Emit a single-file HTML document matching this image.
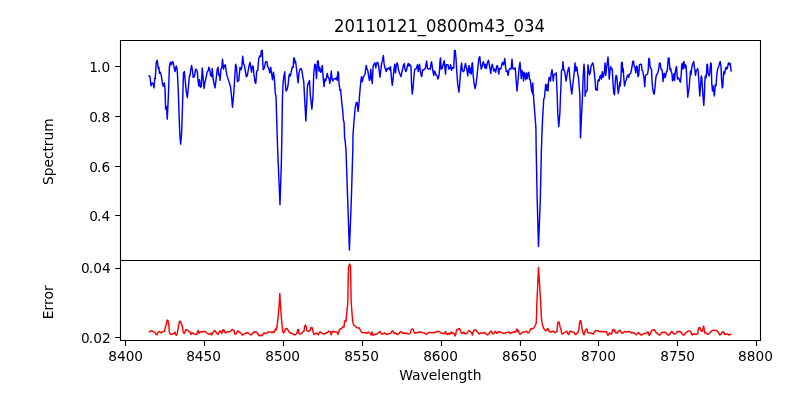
<!DOCTYPE html>
<html><head><meta charset="utf-8"><title>20110121_0800m43_034</title>
<style>
html,body{margin:0;padding:0;background:#fff;}
body{width:800px;height:400px;overflow:hidden;}
svg{display:block;}
text{font-family:"DejaVu Sans","Liberation Sans",sans-serif;fill:#000;}
.t{font-size:13.89px;}
.k{font-size:13.7px;}
.ti{font-size:16.67px;}
</style></head><body>
<svg width="800" height="400" viewBox="0 0 800 400">
<rect x="0" y="0" width="800" height="400" fill="#fff"/>
<defs><clipPath id="c1"><rect x="120" y="40" width="640" height="220"/></clipPath><clipPath id="c2"><rect x="120" y="260" width="640" height="80"/></clipPath></defs>
<polyline clip-path="url(#c1)" points="148.50,75.38 150.00,76.62 151.00,85.75 152.00,82.88 153.00,83.50 154.00,87.88 154.75,77.88 155.25,78.75 156.25,62.25 157.25,60.38 158.25,68.50 159.00,67.25 159.38,73.25 160.38,72.25 161.25,75.38 162.50,83.50 163.25,86.25 164.25,82.88 165.00,88.50 165.62,109.12 166.50,106.62 167.25,119.12 168.50,93.50 169.38,67.25 170.38,62.25 171.25,64.75 171.88,62.25 172.88,61.62 173.50,64.75 175.00,71.62 176.25,66.00 177.25,70.38 178.12,87.25 179.75,133.50 180.62,144.12 181.62,133.50 182.88,93.50 183.50,72.88 184.38,71.62 185.25,81.00 186.25,91.62 187.38,97.50 188.12,89.75 189.38,76.00 190.00,76.00 190.62,70.38 191.62,65.38 192.50,71.00 193.12,77.25 194.38,76.62 195.62,69.12 196.88,70.38 197.50,73.50 198.12,81.62 198.75,86.00 199.50,79.75 200.38,87.25 201.25,86.62 202.25,67.88 203.12,77.25 204.00,88.50 205.00,82.25 206.25,76.62 207.25,71.62 208.12,71.00 208.75,67.25 209.62,69.12 210.62,75.38 211.50,76.62 212.25,68.50 213.12,78.50 214.00,83.50 215.00,87.88 216.00,80.38 217.25,69.12 218.00,67.25 218.75,75.38 219.50,74.12 220.00,80.38 221.00,69.12 221.88,67.25 222.50,59.12 223.50,69.12 224.38,66.00 225.38,64.75 226.00,69.75 226.88,75.38 228.12,79.12 229.38,82.88 230.62,87.25 231.50,96.00 232.50,107.25 233.75,93.50 234.38,83.50 235.62,64.12 236.50,67.25 237.50,81.62 238.75,80.38 240.00,67.25 241.00,69.75 241.75,67.25 242.75,56.25 243.50,63.50 244.38,65.38 245.25,70.38 246.25,76.62 247.25,76.00 248.12,71.00 249.00,66.00 250.00,62.25 250.75,66.62 251.50,72.25 252.50,66.00 253.25,66.62 254.00,74.75 255.00,82.25 255.75,83.50 256.75,71.00 257.75,70.38 258.75,58.50 259.75,56.00 260.75,56.62 261.25,51.00 262.25,50.38 262.75,62.25 263.25,69.75 264.38,67.88 265.62,61.62 266.88,61.62 267.75,66.62 268.75,68.50 269.75,72.88 270.75,67.25 271.50,72.88 272.50,79.75 273.50,72.25 274.38,78.50 275.25,92.88 276.00,96.00 277.50,146.00 278.30,165.00 280.00,204.80 281.30,165.00 281.70,146.00 282.50,96.00 283.12,82.25 283.75,77.25 284.75,71.62 285.25,82.25 286.00,91.00 287.25,89.12 288.12,84.75 289.00,75.38 289.75,74.12 290.25,76.00 291.00,72.88 291.88,68.50 292.50,66.62 293.25,67.25 293.75,57.88 294.50,58.50 295.00,62.88 295.62,61.62 296.50,68.50 297.25,76.00 298.12,82.88 299.00,72.88 300.00,69.12 301.00,68.50 301.88,70.38 302.75,76.62 303.75,81.62 304.50,96.00 305.88,121.00 307.50,86.00 308.50,82.25 309.00,83.50 309.50,80.38 310.38,96.00 311.88,109.12 313.00,96.00 313.75,73.50 314.75,64.12 315.50,64.75 316.50,78.50 317.50,61.00 318.25,61.00 319.00,71.00 319.75,67.25 320.62,72.25 321.50,71.00 322.25,65.38 323.00,76.00 324.00,86.62 324.75,79.12 325.62,81.00 326.50,77.25 327.25,73.50 328.12,77.25 329.00,78.50 329.75,83.50 330.62,78.50 331.25,71.00 332.00,78.50 332.75,81.00 333.75,79.12 334.75,78.50 335.62,79.12 336.50,77.25 337.25,80.38 337.88,71.62 338.50,72.88 339.00,83.50 340.00,90.38 340.75,89.75 340.85,92.25 342.10,106.10 342.50,108.00 343.40,120.00 344.15,123.00 344.60,138.50 345.00,139.50 346.00,150.00 347.70,200.00 349.40,250.00 351.30,200.00 352.80,150.00 353.00,135.00 354.10,120.00 355.25,107.25 356.40,102.40 357.10,102.40 358.10,111.40 359.00,103.50 359.50,96.00 360.25,87.25 361.00,79.75 361.50,76.62 362.25,81.62 363.12,77.88 364.00,76.00 365.00,74.12 365.62,69.12 366.25,65.38 367.00,69.12 367.75,70.38 368.50,75.38 369.38,80.38 370.00,79.75 370.75,69.12 371.50,77.25 372.25,83.50 373.12,66.00 374.00,64.12 375.00,62.88 375.75,67.88 376.50,64.12 377.25,62.25 378.00,62.88 378.75,66.62 379.50,73.50 380.00,77.25 380.75,71.00 381.62,62.88 382.50,60.38 383.38,55.38 384.00,63.50 384.75,66.62 385.62,69.75 386.25,71.62 387.00,68.50 387.75,69.12 388.75,67.88 389.75,69.75 390.50,66.62 391.25,76.00 392.25,85.38 393.12,78.50 394.00,69.12 394.75,64.12 395.50,72.88 396.25,66.00 397.00,62.88 397.75,64.75 398.50,69.75 399.38,72.88 400.25,74.75 401.00,76.62 401.88,72.25 402.75,68.50 403.50,64.75 404.25,63.50 405.00,69.12 405.75,71.62 406.88,69.12 407.50,65.38 408.25,63.50 409.00,66.00 409.50,64.12 410.25,65.38 411.00,66.62 411.50,83.50 412.25,94.12 413.12,87.25 414.00,75.38 414.75,69.12 415.75,69.12 416.50,67.88 417.50,64.75 418.25,71.62 419.00,67.25 419.50,64.12 420.25,70.38 421.00,74.75 421.75,76.62 422.50,69.75 423.50,70.38 424.38,69.12 425.25,68.50 426.00,64.75 426.62,61.00 427.50,68.50 428.50,69.12 429.50,68.50 430.25,69.12 431.00,63.50 431.50,61.62 432.25,66.62 433.00,71.62 433.75,75.38 434.50,71.00 435.25,72.88 436.25,75.38 437.25,76.00 438.00,79.12 438.75,76.62 439.50,71.00 440.00,61.00 440.50,57.88 441.25,69.12 442.25,68.50 443.12,64.75 444.25,60.75 444.75,66.00 445.50,74.12 446.25,64.75 447.25,64.75 448.00,64.75 448.75,69.12 449.75,68.50 450.50,64.75 451.50,70.38 452.25,67.25 453.00,68.50 453.75,67.88 454.50,50.38 455.25,50.38 456.00,58.50 456.75,71.00 457.75,84.75 459.00,92.25 460.00,79.75 461.00,66.62 461.62,62.88 462.25,70.38 463.25,71.62 464.00,71.00 464.75,66.62 465.50,63.50 466.25,67.25 467.00,70.38 467.75,76.00 468.50,67.88 469.00,65.38 469.75,72.88 470.50,67.88 471.25,74.12 472.00,63.50 472.50,62.88 473.12,74.75 474.00,82.88 475.00,88.50 476.00,84.75 477.00,76.00 478.00,66.00 479.00,57.88 479.75,56.62 480.50,63.50 481.25,69.12 482.25,66.00 483.25,61.62 484.00,64.12 484.75,67.88 485.50,64.12 486.25,68.50 487.00,64.75 487.75,61.62 488.50,60.38 489.25,64.75 490.00,68.50 490.75,73.50 491.50,67.25 492.25,64.12 493.00,67.25 493.75,71.00 494.75,69.12 495.75,72.25 496.50,67.25 497.25,65.38 498.00,67.88 498.75,74.12 499.50,68.50 500.50,69.12 501.25,67.25 502.00,63.50 502.75,62.25 503.50,64.75 504.25,62.25 504.75,58.50 505.50,66.62 506.25,71.62 507.25,71.00 508.12,75.38 509.00,69.75 510.00,68.50 511.00,69.12 511.50,64.75 512.00,59.12 512.75,68.50 513.75,69.12 514.50,68.50 515.25,67.88 516.00,78.50 517.00,91.00 517.75,83.50 518.50,74.75 519.25,66.62 520.00,62.25 520.75,71.00 521.25,78.50 522.00,70.38 522.75,72.88 523.50,81.00 524.25,72.25 525.00,75.38 525.75,79.75 526.50,72.88 527.25,78.50 528.00,74.12 528.75,72.25 529.50,79.12 530.25,79.75 531.00,86.00 531.75,91.62 532.25,87.25 532.75,82.88 533.25,92.88 533.75,96.00 531.75,91.50 533.25,93.00 534.15,105.00 535.30,120.00 535.90,127.50 536.20,150.00 537.20,200.00 538.50,246.50 540.30,200.00 541.40,150.00 541.90,135.00 542.50,120.00 543.40,105.00 543.75,99.00 544.50,97.50 545.00,91.62 545.75,84.12 546.75,90.38 547.50,84.75 548.00,91.00 548.50,82.25 549.00,77.88 549.75,77.25 550.50,81.00 551.25,73.50 552.00,69.75 552.75,74.75 553.25,81.00 553.75,76.00 554.75,74.12 555.50,74.12 556.25,72.88 556.60,82.00 557.20,96.00 557.75,113.00 558.75,126.60 559.90,113.00 560.50,96.00 561.00,85.00 561.50,70.38 562.50,69.12 563.00,61.62 563.75,70.38 564.50,70.38 565.25,75.38 566.00,81.00 566.75,77.25 567.50,72.25 568.25,69.12 569.00,67.25 569.75,77.25 570.75,86.00 571.75,94.12 572.50,87.25 573.50,78.50 574.25,72.25 575.00,62.88 575.75,71.00 576.25,66.62 577.00,67.88 577.75,74.12 578.50,77.88 579.25,87.25 579.88,96.00 580.50,137.88 582.50,96.00 582.75,87.25 583.50,71.00 584.00,64.12 584.62,72.25 585.12,96.25 585.75,91.50 586.38,91.75 587.25,90.25 587.50,77.25 588.00,64.75 588.75,70.38 589.50,74.75 590.25,72.88 591.00,66.62 591.75,64.75 592.75,62.88 593.50,66.00 594.25,72.25 595.00,79.75 595.75,89.75 596.50,89.12 597.25,90.38 597.75,81.62 598.50,79.75 599.25,81.00 600.00,76.00 600.75,75.38 601.50,79.12 602.25,71.62 603.00,77.25 603.75,75.38 604.50,71.00 605.00,62.88 605.75,75.38 606.50,68.50 607.25,62.88 608.00,57.00 608.50,64.75 609.25,79.12 610.00,71.00 610.75,66.62 611.50,68.50 612.25,69.12 613.00,83.50 613.75,92.88 614.50,94.75 615.25,82.25 616.00,75.38 616.75,76.00 617.50,86.00 618.25,93.50 619.00,88.50 619.75,82.25 620.25,86.00 621.00,77.25 621.50,62.88 622.25,62.25 622.75,72.25 623.25,68.50 623.75,77.25 624.50,86.00 625.25,82.25 626.25,79.75 627.25,76.00 628.00,74.75 628.75,77.25 629.50,74.12 630.50,73.50 631.25,71.00 632.00,66.62 632.75,61.62 633.50,61.00 634.25,66.62 635.00,67.88 635.75,72.88 636.50,66.00 637.25,66.62 638.00,76.62 638.75,74.75 639.50,64.75 640.75,64.12 641.50,64.75 642.00,70.38 642.75,71.00 643.25,74.12 644.00,78.50 644.75,86.62 645.50,75.38 646.50,74.75 647.50,74.12 648.25,69.75 648.75,58.50 649.50,59.12 650.00,66.00 650.75,68.50 651.50,69.12 652.00,81.00 652.75,89.12 653.50,92.88 654.25,94.12 655.00,87.25 655.75,78.50 656.50,74.75 657.25,74.12 658.00,72.25 658.75,68.50 659.50,62.88 660.25,63.50 661.00,69.12 662.00,69.75 662.50,72.88 663.00,81.62 663.75,74.12 664.50,73.50 665.00,77.88 665.75,75.38 666.50,71.62 667.25,71.00 667.75,64.75 668.25,57.88 669.00,57.88 669.50,64.12 670.00,69.75 670.75,68.50 671.25,71.62 672.00,74.12 672.50,81.00 673.25,78.50 674.00,73.50 674.50,80.38 675.25,72.88 676.00,67.88 676.50,66.62 677.00,72.88 677.50,79.12 678.25,77.88 679.00,78.50 679.75,81.00 680.50,82.25 681.25,74.12 681.75,64.12 682.50,63.50 683.00,69.12 683.50,62.25 684.00,61.62 684.75,67.88 685.25,64.75 686.00,65.38 686.50,72.88 687.00,83.50 687.50,91.00 687.75,97.25 689.00,88.50 689.75,79.75 690.50,71.00 691.00,74.75 691.75,67.88 692.50,64.12 693.25,62.88 693.75,61.62 694.25,66.62 695.00,71.00 695.50,75.38 696.25,70.38 697.00,69.75 697.75,68.50 698.25,72.25 699.00,83.50 699.75,96.00 701.25,76.00 701.75,77.25 702.25,84.75 703.00,96.00 703.75,105.38 704.50,93.50 704.75,82.25 705.25,76.00 706.00,77.88 706.50,72.88 707.00,64.12 707.50,64.75 708.00,72.88 708.50,74.75 709.25,76.00 710.00,69.75 710.75,62.88 711.25,64.12 711.75,83.50 712.50,91.00 713.25,86.00 714.38,96.00 715.25,84.75 716.00,86.00 716.75,75.38 717.50,69.75 718.25,67.25 719.00,66.00 719.75,62.25 720.25,61.62 721.00,66.62 721.50,79.12 722.25,87.88 722.75,86.62 723.25,78.50 723.75,71.62 724.50,74.12 725.25,70.38 726.00,67.25 726.75,69.12 727.50,67.88 728.25,63.50 728.75,62.88 729.50,64.75 730.25,63.50 730.75,67.88 731.25,71.62" fill="none" stroke="#0000ff" stroke-width="1.45" stroke-linejoin="round" stroke-linecap="butt"/>
<polyline clip-path="url(#c2)" points="148.60,331.80 150.00,331.50 151.20,330.80 152.50,331.20 154.00,331.80 155.00,332.50 156.00,334.50 157.00,334.80 157.80,332.50 159.00,331.50 160.00,332.00 161.20,333.00 162.20,331.80 163.50,331.50 164.50,331.50 165.20,327.50 165.80,326.00 166.50,323.50 167.20,320.00 168.00,320.50 168.80,325.00 169.50,333.00 170.50,334.20 172.00,334.20 173.20,333.80 174.20,333.00 175.00,332.00 175.60,334.50 176.40,335.20 177.20,334.00 178.00,329.00 178.80,325.00 179.60,321.20 180.50,321.50 181.50,324.00 182.50,327.50 183.20,332.00 184.00,333.50 184.80,333.00 185.50,330.00 186.50,329.80 187.80,330.50 189.00,331.50 190.00,332.00 191.00,334.50 192.00,332.50 193.00,333.50 194.50,334.20 196.00,334.50 196.80,334.50 197.50,332.00 198.20,330.50 199.00,333.00 200.00,332.00 201.20,331.80 202.50,332.00 203.50,331.20 204.80,331.50 206.00,332.20 207.20,333.20 208.50,334.20 209.50,334.50 210.50,333.50 211.20,333.00 211.80,335.00 212.80,333.00 213.80,331.20 214.80,330.50 215.80,332.00 216.80,333.50 218.00,334.50 219.00,332.50 220.00,330.80 221.00,332.00 221.80,333.50 222.80,330.00 223.80,329.80 224.50,332.00 225.50,333.00 226.50,332.00 228.00,331.80 229.50,331.80 230.80,331.20 231.80,329.80 233.00,329.50 234.00,330.80 234.80,334.00 236.00,333.80 237.00,332.00 238.00,330.80 239.00,332.00 240.00,332.50 241.20,333.50 242.20,335.00 243.20,334.80 244.50,333.80 245.80,333.20 247.00,332.80 248.20,333.00 249.20,334.00 250.50,334.80 251.80,334.50 252.80,333.00 253.80,332.00 255.00,331.80 256.20,332.00 257.20,333.00 258.20,334.50 259.20,335.80 260.20,335.20 261.20,335.50 262.20,335.80 263.00,334.00 264.00,333.00 265.20,333.50 266.20,333.50 267.20,332.50 268.20,331.80 269.20,332.20 270.20,331.80 271.20,332.20 272.00,332.80 273.00,331.80 274.00,332.50 274.80,330.50 275.50,329.00 276.20,330.00 277.00,326.50 277.80,320.00 278.60,311.00 279.20,305.00 279.80,293.40 280.50,305.00 281.20,315.00 282.00,325.00 282.80,331.50 283.50,333.00 284.50,331.50 285.50,329.00 286.50,328.50 287.50,329.00 288.50,331.20 289.50,332.50 290.50,333.20 291.50,333.00 292.50,333.80 293.80,334.50 295.00,334.80 296.20,334.00 297.20,332.50 297.80,329.50 298.50,329.50 299.00,333.50 300.00,334.00 301.20,333.80 302.20,332.50 303.20,331.50 304.00,331.20 304.60,326.50 305.40,325.00 306.20,326.50 306.80,330.50 307.80,331.20 309.00,331.20 310.00,330.50 310.80,328.00 311.80,327.50 312.50,328.50 313.20,332.50 314.00,334.50 315.00,333.80 316.00,333.50 317.00,333.00 318.20,335.00 319.20,333.00 320.00,331.80 321.20,332.50 322.50,333.50 323.80,334.20 325.00,333.50 326.20,333.00 327.50,332.50 328.50,331.20 329.50,331.50 330.50,331.80 331.20,334.80 332.20,332.00 333.00,331.20 334.00,331.80 335.20,332.00 336.50,332.00 337.20,332.50 338.00,334.50 338.80,331.80 339.50,329.50 340.50,329.00 341.50,328.50 342.50,327.50 343.20,326.50 344.00,327.00 344.60,321.00 345.20,320.50 346.00,321.50 346.60,314.00 347.20,308.00 347.60,305.00 347.80,302.00 348.30,275.00 348.60,267.00 349.60,264.00 350.45,266.00 350.65,275.00 351.20,302.00 351.40,305.00 352.00,313.00 352.60,320.00 353.20,324.00 354.00,325.50 355.00,325.80 356.00,327.00 357.00,327.80 358.00,328.00 359.00,327.80 360.00,329.50 361.00,331.50 362.00,332.50 363.20,332.80 364.50,332.80 365.80,332.50 366.80,333.50 367.80,332.50 368.60,332.00 369.50,333.00 370.50,334.00 371.20,335.00 372.00,332.00 372.80,335.00 373.50,335.20 374.50,334.50 375.80,334.20 377.00,334.00 378.00,333.00 379.00,332.20 380.00,331.50 381.00,333.50 382.20,334.20 383.50,333.50 384.80,333.00 386.00,334.00 387.20,334.50 388.50,333.80 389.80,333.50 391.00,333.00 391.80,331.20 392.60,330.80 393.40,332.20 394.50,333.50 395.50,332.80 396.50,334.00 397.80,334.50 399.00,333.50 400.00,332.20 401.00,331.50 402.00,332.80 403.20,333.20 404.50,333.00 405.80,333.50 407.00,333.20 408.20,334.00 409.50,333.80 410.50,333.00 411.20,330.00 412.20,329.00 413.20,329.50 414.00,331.50 414.80,333.20 416.00,332.80 417.20,332.50 418.50,332.50 419.50,332.00 420.50,331.80 421.50,332.50 422.80,332.80 424.00,333.00 425.20,333.50 426.50,334.50 427.80,333.20 429.00,332.50 430.20,332.50 431.50,332.80 432.80,332.80 434.00,332.50 435.20,332.50 436.50,331.80 437.80,331.50 439.00,331.50 440.00,332.00 441.00,333.00 442.20,333.20 443.50,333.50 444.50,333.80 445.50,331.50 446.20,333.00 447.20,334.50 448.20,334.00 449.00,333.20 449.80,334.20 450.60,333.00 451.40,332.00 452.20,333.50 453.20,333.00 454.20,333.50 455.00,336.00 455.80,334.50 456.50,330.00 457.50,329.50 458.50,329.00 459.50,328.50 460.00,329.50 460.80,332.00 461.80,333.50 462.80,333.00 463.80,332.00 464.80,333.50 466.00,334.00 467.20,333.00 468.20,331.20 469.00,330.50 470.00,331.50 471.00,332.20 471.80,333.00 472.40,335.00 473.00,332.50 473.80,330.50 474.80,330.00 475.80,329.80 476.80,331.20 478.00,332.80 479.20,334.00 480.50,333.00 481.80,333.00 483.00,333.00 484.20,332.50 485.50,333.20 486.50,334.50 487.80,334.80 489.00,333.50 490.00,332.20 491.00,330.80 491.80,332.50 492.80,333.80 494.00,333.50 495.00,331.20 496.00,332.00 497.00,333.50 498.00,332.00 499.20,331.80 500.50,332.20 501.80,332.50 503.00,333.20 504.20,333.50 505.50,332.80 506.80,332.50 508.00,332.50 509.00,331.80 510.00,333.50 511.00,333.00 512.20,332.50 513.20,332.20 514.50,331.80 515.80,332.00 516.50,329.50 517.20,329.00 517.80,331.50 518.50,330.80 519.20,333.00 520.00,334.50 521.00,333.50 522.00,332.50 523.20,332.20 524.50,332.20 525.50,331.50 526.50,331.20 527.50,332.50 528.50,332.80 529.50,331.80 530.20,330.00 530.80,328.80 531.80,328.50 532.80,328.80 533.80,328.00 534.60,326.50 535.50,325.00 536.20,323.00 536.60,315.00 536.80,305.00 538.50,267.50 540.80,305.00 541.20,315.00 541.80,321.00 542.50,325.00 543.50,328.00 544.50,329.50 545.50,330.50 546.50,330.80 547.20,329.00 548.00,328.50 548.80,330.80 549.80,332.00 551.00,332.00 552.20,331.50 553.20,330.80 554.00,332.20 555.00,332.50 556.20,332.00 557.00,331.00 557.60,323.50 558.20,322.00 559.00,322.00 559.60,324.50 560.20,327.50 561.00,329.50 561.60,333.50 562.50,334.00 563.80,333.00 565.00,332.20 566.00,331.80 566.80,331.20 567.60,333.50 568.80,334.50 569.60,331.50 570.40,331.00 571.50,331.80 572.80,332.00 574.00,332.50 575.00,334.00 576.00,334.50 577.00,333.20 578.00,332.50 578.80,329.50 579.40,324.00 580.00,321.00 580.80,320.80 581.40,324.00 582.00,329.00 582.80,331.50 583.40,334.00 584.00,334.80 584.80,332.00 585.50,330.00 586.20,329.20 587.00,329.00 587.60,332.50 588.80,332.80 590.00,333.00 591.20,333.20 592.20,333.50 593.20,334.20 594.00,332.50 595.00,331.20 596.00,330.50 597.00,330.50 598.00,331.00 599.20,331.50 600.50,331.50 601.80,331.80 603.00,331.50 604.20,331.80 605.50,331.50 606.50,331.80 607.20,334.00 608.00,335.50 608.80,334.00 609.60,332.80 610.40,333.50 611.20,334.20 612.00,333.00 612.60,330.00 613.40,329.50 614.00,331.00 614.60,329.80 615.20,332.00 616.00,333.00 617.20,333.00 618.20,331.80 619.00,330.80 620.00,330.20 621.00,331.80 622.00,333.20 623.20,332.80 624.20,331.80 625.20,331.50 626.20,332.00 627.50,331.80 628.80,331.50 630.00,331.80 631.00,332.50 631.80,333.20 632.80,332.50 634.00,333.00 635.20,334.00 636.50,334.80 637.50,333.50 638.50,332.50 639.50,333.50 640.50,334.80 641.50,335.00 642.50,334.50 643.50,333.80 644.50,333.50 645.50,333.50 646.50,332.50 647.50,332.20 648.20,332.00 648.80,334.50 649.50,335.50 650.20,334.00 651.00,332.00 651.80,330.50 652.80,330.00 653.80,329.80 654.80,330.00 655.50,331.80 656.50,333.00 657.50,333.50 658.50,334.50 659.50,335.20 660.50,334.50 661.20,333.00 662.20,332.20 663.20,332.50 664.50,332.20 665.50,332.50 666.50,333.50 667.50,334.80 668.50,335.00 669.50,334.50 670.50,333.50 671.20,331.80 672.00,331.50 672.80,332.50 673.80,334.00 675.00,334.00 676.00,333.20 677.00,332.00 677.80,331.20 678.80,331.80 679.80,331.50 680.80,332.00 681.80,333.50 682.80,334.80 684.00,335.00 685.00,334.00 686.00,332.50 687.00,331.80 688.00,331.20 689.00,330.80 690.00,331.20 691.00,332.00 691.60,334.50 692.20,335.00 693.00,333.80 694.20,334.00 695.50,334.20 696.80,334.20 697.80,333.50 698.40,329.00 699.00,327.50 700.00,327.80 700.80,330.50 701.50,331.00 702.20,331.20 703.00,328.50 703.60,326.00 704.20,329.00 704.60,333.00 705.50,332.50 706.50,333.50 707.50,334.20 708.80,334.00 709.80,333.00 710.80,331.80 711.80,330.80 713.00,330.20 714.50,330.20 715.80,330.50 717.00,330.80 718.00,332.00 719.00,333.50 720.00,335.00 720.80,334.50 721.50,333.00 722.50,332.00 723.50,331.80 724.20,333.50 725.00,334.50 726.00,334.00 727.00,333.80 728.00,334.50 729.00,335.00 730.00,334.50 731.00,334.20 731.50,334.50" fill="none" stroke="#ff0000" stroke-width="1.45" stroke-linejoin="round" stroke-linecap="butt"/>
<path d="M125.5 340.5v5.5 M204.5 340.5v5.5 M283.5 340.5v5.5 M362.5 340.5v5.5 M441.5 340.5v5.5 M520.5 340.5v5.5 M598.5 340.5v5.5 M677.5 340.5v5.5 M756.5 340.5v5.5 M120.5 66.5h-5.3 M120.5 116.5h-5.3 M120.5 166.5h-5.3 M120.5 215.5h-5.3 M120.5 268.5h-5.3 M120.5 337.5h-5.3" stroke="#000" stroke-width="1.11" fill="none"/>
<path d="M120.5 40.5H760.5V340.5H120.5Z M120.5 260.5H760.5" fill="none" stroke="#000" stroke-width="1.11" stroke-linejoin="miter"/>
<text class="k" x="125.65" y="361.0" text-anchor="middle">8400</text>
<text class="k" x="203.55" y="361.0" text-anchor="middle">8450</text>
<text class="k" x="282.65" y="361.0" text-anchor="middle">8500</text>
<text class="k" x="361.55" y="361.0" text-anchor="middle">8550</text>
<text class="k" x="440.55" y="361.0" text-anchor="middle">8600</text>
<text class="k" x="519.45" y="361.0" text-anchor="middle">8650</text>
<text class="k" x="598.45" y="361.0" text-anchor="middle">8700</text>
<text class="k" x="677.65" y="361.0" text-anchor="middle">8750</text>
<text class="k" x="755.45" y="361.0" text-anchor="middle">8800</text>
<text class="k" x="109.45" y="71.75" text-anchor="end"><tspan dx="0.75">1</tspan><tspan dx="-1">.</tspan><tspan dx="0.15">0</tspan></text>
<text class="k" x="109.45" y="121.75" text-anchor="end"><tspan dx="0.75">0</tspan><tspan dx="-1">.</tspan><tspan dx="0.15">8</tspan></text>
<text class="k" x="109.45" y="171.75" text-anchor="end"><tspan dx="0.75">0</tspan><tspan dx="-1">.</tspan><tspan dx="0.15">6</tspan></text>
<text class="k" x="109.45" y="220.75" text-anchor="end"><tspan dx="0.75">0</tspan><tspan dx="-1">.</tspan><tspan dx="0.15">4</tspan></text>
<text class="k" x="109.90" y="273.00" text-anchor="end"><tspan dx="0.75">0</tspan><tspan dx="-1">.</tspan><tspan dx="0.15">04</tspan></text>
<text class="k" x="109.90" y="342.75" text-anchor="end"><tspan dx="0.75">0</tspan><tspan dx="-1">.</tspan><tspan dx="0.15">02</tspan></text>
<text class="ti" transform="translate(439.4,31.75) scale(0.99,1.05)" text-anchor="middle">20110121_0800m43_034</text>
<text class="t" x="440.4" y="379.5" text-anchor="middle">Wavelength</text>
<text class="t" transform="translate(52.5,151.7) rotate(-90) scale(0.99,1)" text-anchor="middle">Spectrum</text>
<text class="t" transform="translate(52.5,302.3) rotate(-90)" text-anchor="middle">Error</text>
</svg></body></html>
